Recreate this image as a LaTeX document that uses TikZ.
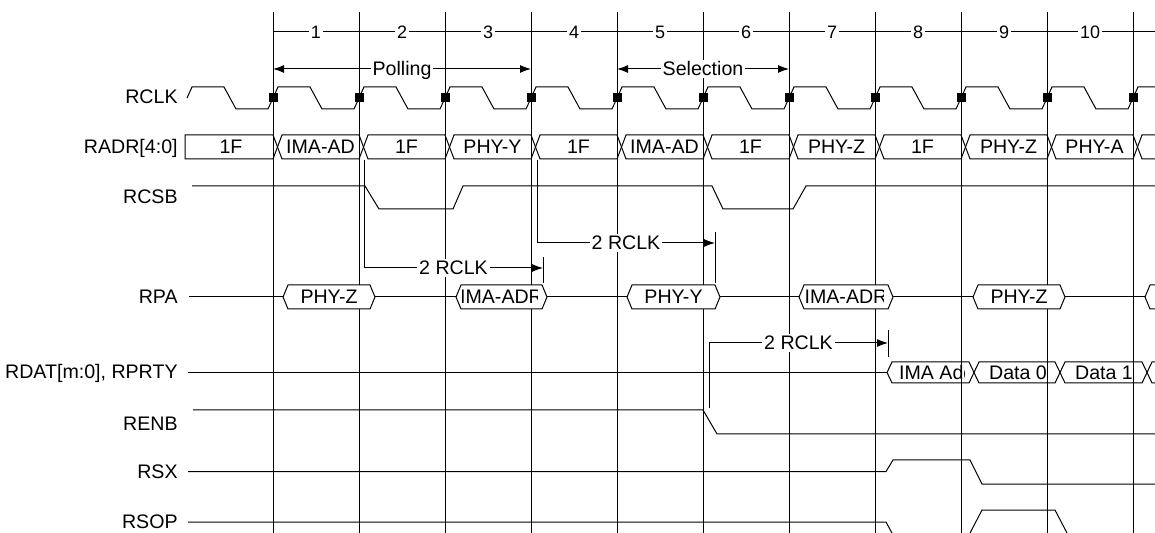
\documentclass[tikz,border=0pt]{standalone}
\usepackage{fontspec}
\setmainfont{Liberation Sans}
\usetikzlibrary{arrows.meta}

\begin{document}
\begin{tikzpicture}[
    x=0.5pt, y=-0.5pt,
    >={Latex[length=5.5pt,width=4pt]},
    sig/.style={line width=0.5pt},
    txt/.style={font=\fontsize{9.8pt}{11.5pt}\selectfont, text height=7pt, text depth=0pt, inner sep=1pt},
    cyc/.style={font=\fontsize{9pt}{10.5pt}\selectfont, text height=6.4pt, text depth=0pt, inner sep=1pt, fill=white},
    signame/.style={txt, anchor=east, inner sep=0pt},
    gap/.style={txt, fill=white},
]

\useasboundingbox (0,0) rectangle (1155,533);
\clip (0,0) rectangle (1155,533);

% clock edges
\foreach \t in {273,359,...,1133}
    \draw[sig] (\t,12) -- (\t,533);

% cycle numbers
\draw[sig] (273,32) -- (1155,32);
\foreach \n in {1,...,10}
    \node[cyc] (cyc\n) at (230+86*\n,32) {\n};

% polling and selection windows
\coordinate (pollA) at (273,69);
\coordinate (pollB) at (531,69);
\coordinate (selA) at (617,69);
\coordinate (selB) at (789,69);
\draw[sig] (273,57) -- (273,84) (531,57) -- (531,84) (617,57) -- (617,84) (789,57) -- (789,84);
\draw[sig,<->] (pollA) -- node[gap] (poll) {Polling} (pollB);
\draw[sig,<->] (selA) -- node[gap] (sel) {Selection} (selB);

% RCLK
\node[signame] (rclk) at (178,97) {RCLK};
\draw[sig] (187,98) -- (192,87)
    \foreach \t in {187,273,...,1133} { -- (\t+37,87) -- (\t+49,109) -- (\t+81,109) -- (\t+91,87) };
\foreach \t in {273,359,...,1133}
    \fill (\t-4.5,93) rectangle (\t+4.5,102);

% RADR[4:0]
\node[signame] (radr) at (178,147) {RADR[4:0]};
\draw[sig] (185,135) -- (273,135) -- (277.5,147) -- (273,159) -- (185,159) -- cycle;
\node[txt] (adr0) at (231,147) {1F};
\foreach \a/\txt [count=\k] in {277.5/IMA-AD, 363.5/1F, 449.5/PHY-Y, 535.5/1F, 621.5/IMA-AD,
        707.5/1F, 793.5/PHY-Z, 879.5/1F, 965.5/PHY-Z, 1051.5/PHY-A, 1137.5/{}} {
    \draw[sig] (\a,147) -- (\a+4.5,135) -- (\a+81.5,135) -- (\a+86,147) -- (\a+81.5,159) -- (\a+4.5,159) -- cycle;
    \begin{scope}
        \clip (\a+6,135) rectangle (\a+80,159);
        \node[txt] (adr\k) at (\a+43,147) {\txt};
    \end{scope}
}

% RCSB
\node[signame] (rcsb) at (178,197) {RCSB};
\draw[sig] (192,186) -- (365,186) -- (379,209) -- (453,209) -- (463,186) -- (712,186)
    -- (723,209) -- (793,209) -- (806,186) -- (1155,186);

% RPA
\node[signame] (rpa) at (178,297) {RPA};
\draw[sig] (189,297) -- (1155,297);
\foreach \a/\b/\txt [count=\k] in {283/375/PHY-Z, 456/547/IMA-ADR, 627/720/PHY-Y,
        799/893/IMA-ADR, 973/1065/PHY-Z, 1145/1237/{}} {
    \filldraw[sig,fill=white] (\a,297) -- (\a+5,285) -- (\b-5,285) -- (\b,297) -- (\b-5,309) -- (\a+5,309) -- cycle;
    \begin{scope}
        \clip (\a+6,285) rectangle (\b-10,309);
        \node[txt] (pa\k) at ({(\a+\b)/2},297) {\txt};
    \end{scope}
}

% 2 RCLK delays
\coordinate (csbA) at (364,160);
\coordinate (paA) at (543,268);
\coordinate (csbB) at (537,160);
\coordinate (paB) at (715,243);
\coordinate (enbA) at (709,408);
\coordinate (datA) at (888,343);
\draw[sig] (543,257) -- (543,283) (715,232) -- (715,283) (888,330) -- (888,357);
\draw[sig,->] (csbA) |- node[gap,pos=0.75] (dly1) {2 RCLK} (paA);
\draw[sig,->] (csbB) |- node[gap,pos=0.75] (dly2) {2 RCLK} (paB);
\draw[sig,->] (enbA) |- node[gap,pos=0.75] (dly3) {2 RCLK} (datA);

% RDAT[m:0], RPRTY
\node[signame] (rdat) at (178,372) {RDAT[m:0], RPRTY};
\draw[sig] (188,372.5) -- (887,372.5);
\foreach \a/\b/\c/\txt [count=\k] in {887/974/940/IMA Addr, 974/1060/1018/Data 0,
        1060/1147/1104/Data 1, 1147/1233/1190/{}} {
    \draw[sig] (\a,372.5) -- (\a+5,362) -- (\b-5,362) -- (\b,372.5) -- (\b-5,383) -- (\a+5,383) -- cycle;
    \begin{scope}
        \clip (\a+6,362) rectangle (\b-10,383);
        \node[txt] (dat\k) at (\c,372.5) {\txt};
    \end{scope}
}

% RENB
\node[signame] (renb) at (178,423) {RENB};
\draw[sig] (193,410) -- (703,410) -- (717,434) -- (1155,434);

% RSX
\node[signame] (rsx) at (178,472) {RSX};
\draw[sig] (188,471.5) -- (886,471.5) -- (893,460) -- (970,460) -- (982,484) -- (1155,484);

% RSOP
\node[signame] (rsop) at (178,521.5) {RSOP};
\draw[sig] (188,522) -- (886,522) -- (893,535) -- (969,535) -- (982,510) -- (1055,510)
    -- (1068,535) -- (1155,535);

\end{tikzpicture}
\end{document}
